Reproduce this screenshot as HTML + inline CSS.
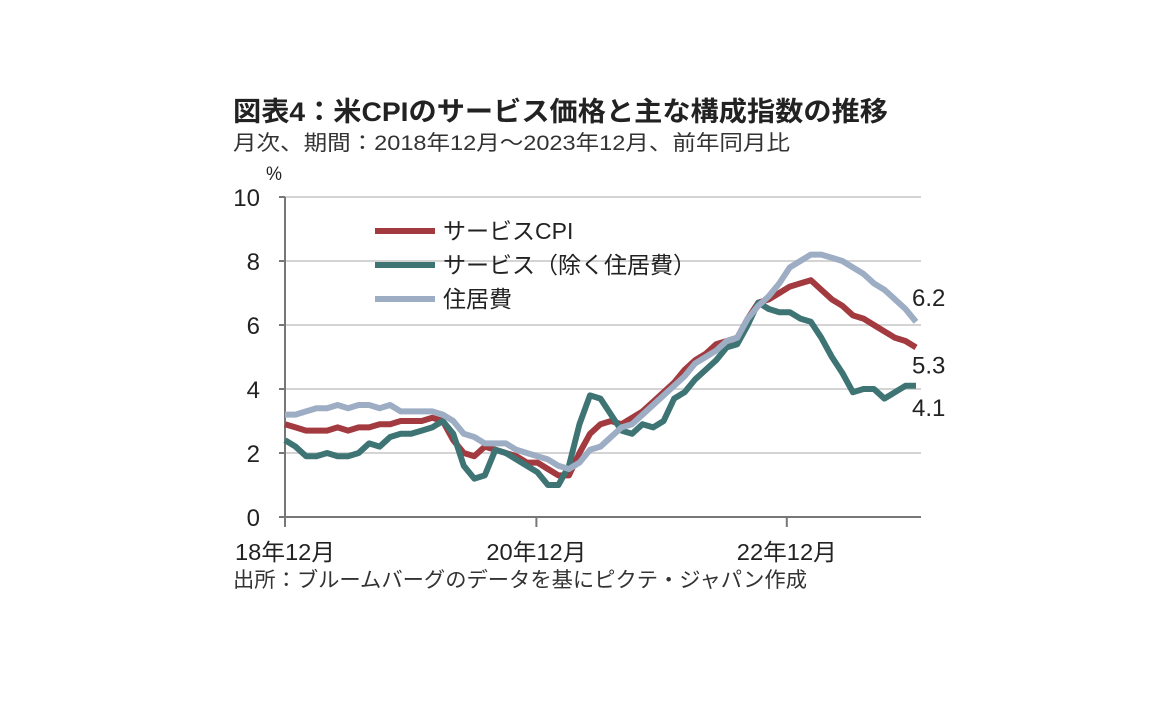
<!DOCTYPE html>
<html><head><meta charset="utf-8"><style>
html,body{margin:0;padding:0;background:#fff;}
svg{display:block;font-family:"Liberation Sans","Noto Sans CJK JP",sans-serif;}
</style></head><body>
<svg id="chart" width="1152" height="720" viewBox="0 0 1152 720">
<text x="233" y="121" font-size="27" font-weight="bold" fill="#222" textLength="655" lengthAdjust="spacingAndGlyphs">図表4：米CPIのサービス価格と主な構成指数の推移</text>
<text x="233" y="150" font-size="21" fill="#333" textLength="557" lengthAdjust="spacingAndGlyphs">月次、期間：2018年12月～2023年12月、前年同月比</text>
<text x="266" y="180" font-size="19" fill="#222" textLength="16" lengthAdjust="spacingAndGlyphs">%</text>
<g id="grid"></g>
<g id="axes"></g>
<g id="lines"></g>
<g>
<line x1="375" y1="231" x2="435" y2="231" stroke="#a33a40" stroke-width="6"/>
<text x="443" y="239" font-size="23" fill="#222">サービスCPI</text>
<line x1="375" y1="265" x2="435" y2="265" stroke="#3e7474" stroke-width="6"/>
<text x="443" y="273" font-size="23" fill="#222">サービス（除く住居費）</text>
<line x1="375" y1="299" x2="435" y2="299" stroke="#9dadc4" stroke-width="6"/>
<text x="443" y="307" font-size="23" fill="#222">住居費</text>
</g>
<text x="233" y="587" font-size="21" fill="#333" textLength="574" lengthAdjust="spacingAndGlyphs">出所：ブルームバーグのデータを基にピクテ・ジャパン作成</text>
</svg>
<script>
const services = [2.9,2.8,2.7,2.7,2.7,2.8,2.7,2.8,2.8,2.9,2.9,3.0,3.0,3.0,3.1,3.0,2.4,2.0,1.9,2.2,2.1,2.0,1.9,1.7,1.7,1.5,1.3,1.3,2.0,2.6,2.9,3.0,2.9,3.1,3.3,3.6,3.9,4.2,4.6,4.9,5.1,5.4,5.5,5.6,6.2,6.7,6.8,7.0,7.2,7.3,7.4,7.1,6.8,6.6,6.3,6.2,6.0,5.8,5.6,5.5,5.3];
const exShelter = [2.4,2.2,1.9,1.9,2.0,1.9,1.9,2.0,2.3,2.2,2.5,2.6,2.6,2.7,2.8,3.0,2.6,1.6,1.2,1.3,2.1,2.0,1.8,1.6,1.4,1.0,1.0,1.6,2.9,3.8,3.7,3.2,2.7,2.6,2.9,2.8,3.0,3.7,3.9,4.3,4.6,4.9,5.3,5.4,6.0,6.7,6.5,6.4,6.4,6.2,6.1,5.6,5.0,4.5,3.9,4.0,4.0,3.7,3.9,4.1,4.1];
const shelter = [3.2,3.2,3.3,3.4,3.4,3.5,3.4,3.5,3.5,3.4,3.5,3.3,3.3,3.3,3.3,3.2,3.0,2.6,2.5,2.3,2.3,2.3,2.1,2.0,1.9,1.8,1.6,1.5,1.7,2.1,2.2,2.5,2.8,2.9,3.2,3.5,3.8,4.1,4.4,4.8,5.0,5.2,5.5,5.6,6.2,6.6,6.9,7.3,7.8,8.0,8.2,8.2,8.1,8.0,7.8,7.6,7.3,7.1,6.8,6.5,6.1];
const yTicks = [0,2,4,6,8,10];
const xTickIdx = [0,24,48];
const xTickLabels = ["18年12月","20年12月","22年12月"];
const endLabels = ["6.2","5.3","4.1"];

const NS="http://www.w3.org/2000/svg";
const x0=285,x1=916,y0=517,yTop=197;
const xs=i=>x0+(x1-x0)*i/60;
const ys=v=>y0-(y0-yTop)*v/10;
function mk(tag,attrs,parent){const e=document.createElementNS(NS,tag);for(const k in attrs)e.setAttribute(k,attrs[k]);parent.appendChild(e);return e;}
const grid=document.getElementById('grid'),axes=document.getElementById('axes'),lines=document.getElementById('lines');
yTicks.forEach(v=>{
  if(v>0){const g=mk('line',{x1:x0,x2:921,y1:ys(v),y2:ys(v),stroke:'#d4d4d4','stroke-width':2},grid);
  
  }
  const t=mk('text',{x:260,y:ys(v)+9,'font-size':24,'text-anchor':'end',fill:'#222'},axes);
  t.textContent=v;
  
  
  const tk=mk('line',{x1:x0-6,x2:x0,y1:ys(v),y2:ys(v),stroke:'#777','stroke-width':2},axes);
  
  
});
const ya=mk('line',{x1:x0,x2:x0,y1:yTop,y2:y0,stroke:'#777','stroke-width':2},axes);


const xa=mk('line',{x1:x0,x2:921,y1:y0,y2:y0,stroke:'#777','stroke-width':2},axes);


xTickIdx.forEach((i,k)=>{
  const off=(i===48?-3:(i===24?-1:0));
  const tk=mk('line',{x1:xs(i)+off,x2:xs(i)+off,y1:y0,y2:y0+10,stroke:'#777','stroke-width':2},axes);
  
  
  const t=mk('text',{x:xs(i)+off,y:560,'font-size':23,'text-anchor':'middle',fill:'#222',textLength:100,lengthAdjust:'spacingAndGlyphs'},axes);
  t.textContent=xTickLabels[k];
  
  
});
function drawLine(data,color,name){
  const p=mk('polyline',{points:data.map((v,i)=>xs(i)+','+ys(v)).join(' '),fill:'none',stroke:color,'stroke-width':6,'stroke-linejoin':'round'},lines);
  
  
}
drawLine(services,'#a33a40','line-services-cpi');
drawLine(exShelter,'#3e7474','line-services-ex-shelter');
drawLine(shelter,'#9dadc4','line-shelter');
const lblY=[ys(shelter[60])-16,ys(services[60])+26,ys(exShelter[60])+30];
endLabels.forEach((s,k)=>{
  const t=mk('text',{x:912,y:lblY[k],'font-size':24,fill:'#222'},axes);
  t.textContent=s;
  
  
});
</script>
</body></html>
